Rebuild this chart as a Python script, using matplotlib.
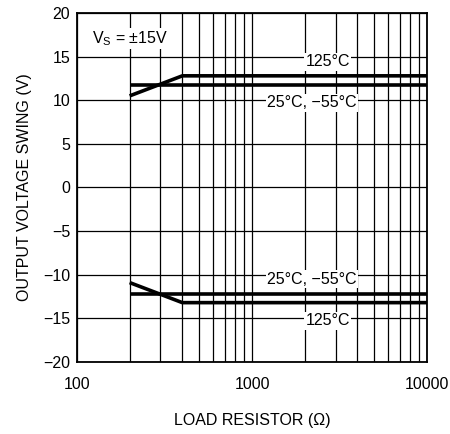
import matplotlib
matplotlib.use("Agg")
import matplotlib.pyplot as plt
from matplotlib.ticker import FixedLocator, NullFormatter

plt.rcParams['font.family'] = ['Liberation Sans', 'DejaVu Sans']

# load resistor (ohm) and output swing (V)
r_flat = [200, 10000]
pos_25 = [11.8, 11.8]
neg_25 = [-12.2, -12.2]
r_125 = [200, 400, 10000]
pos_125 = [10.5, 12.8, 12.8]
neg_125 = [-10.9, -13.2, -13.2]

fig = plt.figure(figsize=(4.5, 4.34), dpi=100)
ax = fig.add_axes([0.171, 0.166, 0.778, 0.804])

ax.set_xscale('log')
ax.set_xlim(100, 10000)
ax.set_ylim(-20, 20)

# log grid
minor = [m * d for d in (100, 1000) for m in range(2, 10)]
ax.xaxis.set_major_locator(FixedLocator([100, 1000, 10000]))
ax.xaxis.set_minor_locator(FixedLocator(minor))
ax.xaxis.set_minor_formatter(NullFormatter())
ax.set_xticklabels(['100', '1000', '10000'])
ax.set_yticks(range(-20, 21, 5))
ax.set_yticklabels([str(v).replace('-', '\u2212') for v in range(-20, 21, 5)])
ax.grid(True, which='both', color='black', linewidth=0.9)
ax.tick_params(which='both', length=0, labelsize=11.5)
ax.tick_params(axis='x', pad=11)
ax.tick_params(axis='y', pad=5)
for s in ax.spines.values():
    s.set_linewidth(1.3)

lw = 2.6
ax.plot(r_flat, pos_25, color='black', lw=lw, solid_capstyle='butt')
ax.plot(r_flat, neg_25, color='black', lw=lw, solid_capstyle='butt')
ax.plot(r_125, pos_125, color='black', lw=lw, solid_capstyle='butt')
ax.plot(r_125, neg_125, color='black', lw=lw, solid_capstyle='butt')

box = dict(facecolor='white', edgecolor='none', pad=1)
fs = 11.5
ax.text(2700, 14.4, '125°C', fontsize=fs, ha='center', va='center', bbox=box)
ax.text(2200, 9.7, '25°C, \u221255°C', fontsize=fs, ha='center', va='center', bbox=box)
ax.text(2200, -10.5, '25°C, \u221255°C', fontsize=fs, ha='center', va='center', bbox=box)
ax.text(2700, -15.3, '125°C', fontsize=fs, ha='center', va='center', bbox=box)
ax.text(122, 17.1, 'V$_\\mathregular{S}$ = ±15V', fontsize=fs, ha='left', va='center', bbox=box)

ax.set_xlabel('LOAD RESISTOR (Ω)', fontsize=fs, labelpad=15)
ax.set_ylabel('OUTPUT VOLTAGE SWING (V)', fontsize=fs, labelpad=8)

fig.savefig('out.png', dpi=100)
